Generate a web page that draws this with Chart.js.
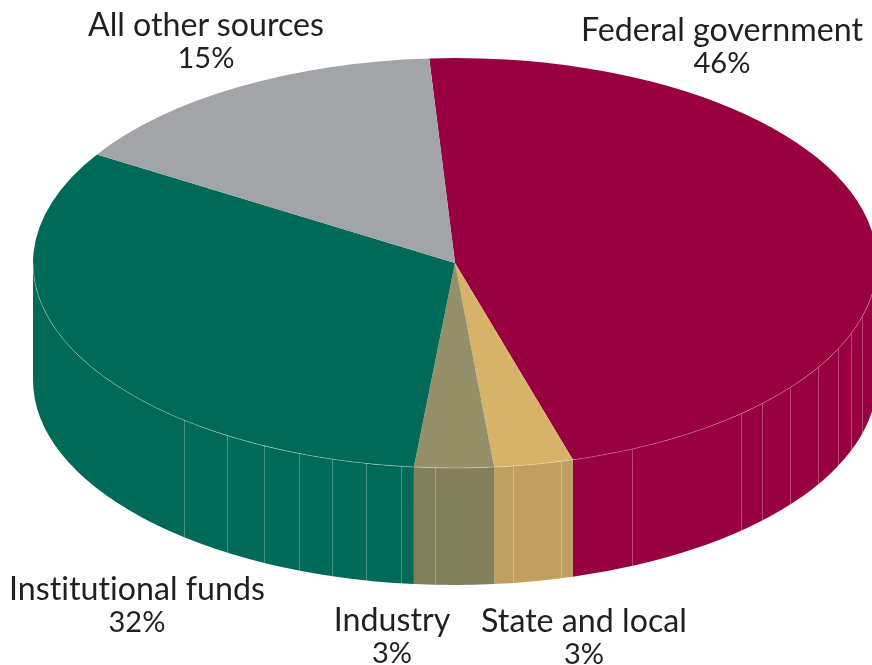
<!DOCTYPE html>
<html lang="en">
<head>
<meta charset="UTF-8">
<title>Sources of funds</title>
<style>
    html, body { margin: 0; padding: 0; background: #fff; overflow: hidden; }
    #wrap { position: relative; width: 872px; height: 665px; overflow: hidden; }
    canvas { position: absolute; left: 0; top: 0; }
    .lbl { position: absolute; transform: translateX(-50%); text-align: center; white-space: nowrap;
           font-family: Lato, sans-serif; font-size: 32.2px; line-height: 33px; color: #231f20;
           font-variant-ligatures: none; }
    .lbl span { font-size: 29px; display: block; }
</style>
</head>
<body>
<div id="wrap">
    <canvas id="myChart" width="872" height="665"></canvas>
</div>
<script src="https://cdn.jsdelivr.net/npm/chart.js@4/dist/chart.umd.min.js"></script>
<script>
const sources = ['Federal government', 'State and local', 'Industry', 'Institutional funds', 'All other sources'];
const shares = [46, 3, 3, 32, 15];
const topColors = ['#99003f', '#d7b36a', '#96906a', '#006a58', '#a3a4a8'];
const sideColors = ['#99003f', '#c0a05e', '#82805c', '#006a58', '#a3a4a8'];

// label anchors: centre x, top y
const labelX = [722, 584, 392, 137, 206];
const labelY = [12, 603, 602, 571, 7];

// the flattened disc on screen
const cx = 455, cy = 263, rx = 422, ry = 205, depth = 117;
// faint vertical seams on the wall, screen x
const seamX = [184, 227, 264, 299, 332, 366, 401, 435, 513, 561, 632, 741, 762, 790, 818, 838, 851, 862];

sources.forEach((name, i) => {
    const el = document.createElement('div');
    el.className = 'lbl';
    el.style.left = labelX[i] + 'px';
    el.style.top = labelY[i] + 'px';
    el.innerHTML = name + '<span>' + shares[i] + '%</span>';
    document.getElementById('wrap').appendChild(el);
});

const flatten = (ctx, arc) => {
    ctx.translate(cx, cy);
    ctx.scale(rx / arc.outerRadius, ry / arc.outerRadius);
    ctx.translate(-arc.x, -arc.y);
};

const discPlugin = {
    id: 'disc',
    beforeDatasetsDraw(chart) {
        const ctx = chart.ctx;
        const arcs = chart.getDatasetMeta(0).data;
        ctx.save();
        flatten(ctx, arcs[0]);
        // wall first, only the front half shows
        const drop = depth * arcs[0].outerRadius / ry;
        arcs.forEach((arc, i) => {
            const a = Math.max(arc.startAngle, 0);
            const b = Math.min(arc.endAngle, Math.PI);
            if (b <= a) return;
            ctx.beginPath();
            ctx.arc(arc.x, arc.y, arc.outerRadius, a, b);
            ctx.arc(arc.x, arc.y + drop, arc.outerRadius, b, a, true);
            ctx.closePath();
            ctx.fillStyle = sideColors[i];
            ctx.fill();
        });
    },
    afterDatasetsDraw(chart) {
        const ctx = chart.ctx;
        ctx.restore();
        // seams and the rim line
        ctx.save();
        ctx.lineWidth = 1;
        ctx.strokeStyle = 'rgba(255,255,255,0.28)';
        seamX.forEach(x => {
            const y = cy + ry * Math.sqrt(1 - Math.pow((x - cx) / rx, 2));
            ctx.beginPath();
            ctx.moveTo(x + 0.5, y);
            ctx.lineTo(x + 0.5, y + depth);
            ctx.stroke();
        });
        ctx.beginPath();
        ctx.ellipse(cx, cy, rx, ry, 0, 0, Math.PI);
        ctx.stroke();
        ctx.restore();
    }
};

new Chart(document.getElementById('myChart').getContext('2d'), {
    type: 'pie',
    data: {
        labels: sources,
        datasets: [{
            data: shares,
            backgroundColor: topColors,
            borderWidth: 0,
            clip: false
        }]
    },
    options: {
        responsive: false,
        animation: false,
        rotation: -3.5,
        plugins: { legend: { display: false }, tooltip: { enabled: false } }
    },
    plugins: [discPlugin]
});
</script>
</body>
</html>
